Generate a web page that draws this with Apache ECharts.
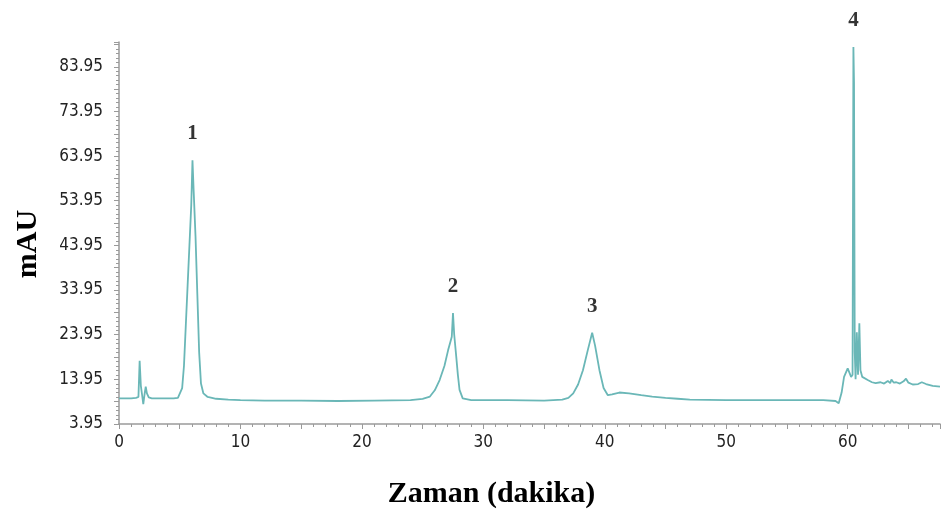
<!DOCTYPE html>
<html><head><meta charset="utf-8">
<script src="https://cdn.jsdelivr.net/npm/echarts@6/dist/echarts.min.js"></script>
<style>html,body{margin:0;padding:0;background:#fff}#c{width:941px;height:516px}</style>
</head><body><div id="c"></div>
<script>
// Retention time (minutes)
const timeMin = [0.0,0.5,1.0,1.4,1.6,1.7,1.8,1.9,2.0,2.1,2.2,2.3,2.45,2.7,3.5,4.5,4.85,5.0,5.2,5.35,5.5,5.65,5.8,5.95,6.05,6.15,6.3,6.45,6.6,6.75,6.95,7.3,8.0,9.0,10,12,15,18,21,24,25,25.6,26.0,26.4,26.8,27.1,27.3,27.4,27.5,27.6,27.77,27.9,28.04,28.3,29,32,35,36.5,37.0,37.4,37.8,38.2,38.6,38.96,39.2,39.56,39.9,40.25,40.6,41.2,42,43,43.9,45,46,47,50,53,56,58,59.0,59.26,59.5,59.7,60.0,60.28,60.4,60.47,60.52,60.58,60.65,60.75,60.85,60.96,61.05,61.2,61.65,62.0,62.3,62.7,63.0,63.3,63.5,63.6,63.8,64.0,64.3,64.6,64.8,65.0,65.35,65.8,66.1,66.45,67.0,67.6];
// Absorbance (mAU)
const mAU = [9.7,9.7,9.7,9.8,10.0,18.1,12.5,10.5,8.4,10.5,12.3,10.8,9.9,9.7,9.7,9.7,9.8,10.0,12.0,17.0,26.0,35.0,44.0,53.0,63.0,56.0,46.0,33.0,20.0,13.0,10.8,10.0,9.6,9.4,9.3,9.2,9.2,9.1,9.2,9.3,9.6,10.1,11.5,13.8,17,20.5,22.5,23.5,28.8,24,19,15,11.6,9.7,9.3,9.3,9.2,9.4,9.8,10.8,12.8,16,20.5,24.4,21.5,16,12,10.4,10.6,11.0,10.8,10.4,10.1,9.8,9.6,9.4,9.3,9.3,9.3,9.3,9.1,8.6,11,14.5,16.4,14.5,15,88.4,80.5,20,14,24.5,15,26.5,16,14.5,13.8,13.3,13.1,13.3,13.0,13.6,13.1,13.9,13.2,13.3,13.0,13.5,14.1,13.2,12.8,12.9,13.3,12.9,12.5,12.3];
// Peak annotations
const peakNames = ['1','2','3','4'];
const peakTimes = [6.05, 27.5, 38.96, 60.47];
const peakValues = [63.0, 28.8, 24.4, 88.4];
// Axis ticks
const yTickStart = 3.95, yTickStep = 10;
const xTickStep = 10;

const lineData = timeMin.map((t, i) => [t, mAU[i]]);
const peakData = peakNames.map((n, i) => [peakTimes[i], peakValues[i], n]);

const labelFont = {fontFamily: '"Liberation Sans Narrow","DejaVu Sans Condensed",sans-serif', fontSize: 17, color: '#222'};
const axisGray = '#9a9a9a';

const chart = echarts.init(document.getElementById('c'), null, {renderer: 'canvas'});
chart.setOption({
  animation: false,
  backgroundColor: '#fff',
  grid: {left: 119, right: 1, top: 42, bottom: 92, containLabel: false},
  xAxis: {
    type: 'value', min: 0, max: 67.6, interval: 5,
    axisLine: {show: true, lineStyle: {color: axisGray, width: 1.5}},
    axisTick: {show: true, length: 5, lineStyle: {color: axisGray}},
    minorTick: {show: true, splitNumber: 5, length: 3, lineStyle: {color: axisGray}},
    splitLine: {show: false},
    axisLabel: Object.assign({margin: 10, showMaxLabel: false,
      formatter: v => (Math.abs(v / xTickStep - Math.round(v / xTickStep)) < 1e-6 ? String(Math.round(v)) : '')}, labelFont),
    name: 'Zaman (dakika)', nameLocation: 'middle', nameGap: 55,
    nameTextStyle: {fontFamily: '"Liberation Serif","Times New Roman",serif', fontWeight: 'bold', fontSize: 30, color: '#000', padding: [0, 76, 0, 0]}
  },
  yAxis: {
    type: 'value', min: yTickStart, max: 89.5, interval: 5,
    axisLine: {show: true, lineStyle: {color: axisGray, width: 1.5}},
    axisTick: {show: true, length: 5, lineStyle: {color: axisGray}},
    minorTick: {show: true, splitNumber: 5, length: 3, lineStyle: {color: axisGray}},
    splitLine: {show: false},
    axisLabel: Object.assign({margin: 16, showMaxLabel: false,
      formatter: v => { const k = (v - yTickStart) / yTickStep; return Math.abs(k - Math.round(k)) < 1e-6 ? v.toFixed(2) : ''; }}, labelFont),
    name: 'mAU', nameLocation: 'middle', nameRotate: 90, nameGap: 76,
    nameTextStyle: {fontFamily: '"Liberation Serif","Times New Roman",serif', fontWeight: 'bold', fontSize: 30, color: '#000', padding: [0, 22, 0, 0]}
  },
  series: [
    {type: 'line', data: lineData, showSymbol: false, symbol: 'none', smooth: false,
     lineStyle: {color: '#6ab7b7', width: 1.8}, z: 2},
    {type: 'scatter', data: peakData, symbolSize: 0, z: 3,
     itemStyle: {color: '#000'},
     label: {show: true, position: 'top', distance: 16, formatter: p => p.data[2],
       fontFamily: '"Liberation Serif","Times New Roman",serif', fontWeight: 'bold', fontSize: 21, color: '#000'}}
  ]
});
</script>
</body></html>
